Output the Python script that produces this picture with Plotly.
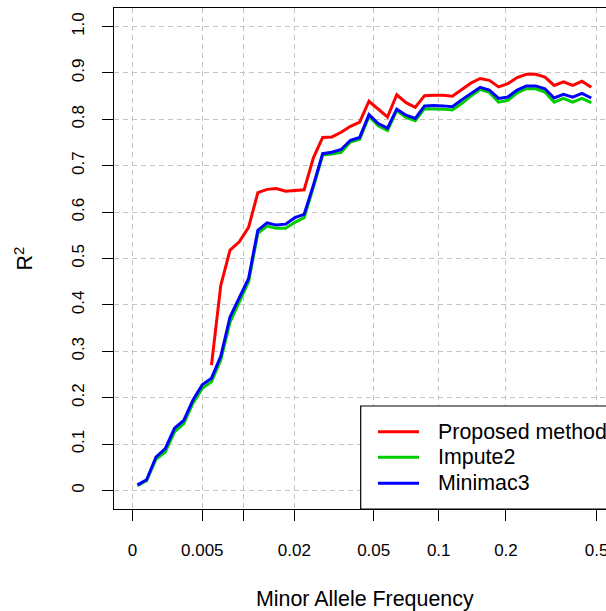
import numpy as np
import plotly.graph_objects as go

# Bin centres of minor allele frequency (50 bins)
maf = [0.00025, 0.00075, 0.00131, 0.00192, 0.00259, 0.00332, 0.00412, 0.0050, 0.00596, 0.00702,
       0.00818, 0.00945, 0.01085, 0.01238, 0.01405, 0.01589, 0.01791, 0.02012, 0.02254, 0.0252,
       0.02811, 0.03131, 0.03481, 0.03865, 0.04286, 0.04748, 0.05254, 0.05810, 0.06418, 0.07086,
       0.07818, 0.08620, 0.0950, 0.10465, 0.11523, 0.12683, 0.13954, 0.15349, 0.16878, 0.18555,
       0.20393, 0.22409, 0.24619, 0.27042, 0.29700, 0.32613, 0.35808, 0.39311, 0.43152, 0.47363]

proposed = [None, None, None, None, None, None, None, None, 0.270, 0.442,
            0.518, 0.536, 0.567, 0.642, 0.649, 0.651, 0.645, 0.646, 0.648, 0.717,
            0.761, 0.762, 0.772, 0.785, 0.794, 0.839, 0.823, 0.805, 0.853, 0.836,
            0.826, 0.851, 0.852, 0.852, 0.850, 0.865, 0.878, 0.888, 0.884, 0.870,
            0.877, 0.890, 0.897, 0.897, 0.891, 0.873, 0.881, 0.873, 0.882, 0.869]

impute2 = [0.010, 0.021, 0.067, 0.083, 0.126, 0.144, 0.188, 0.220, 0.234, 0.281,
           0.363, 0.406, 0.450, 0.554, 0.570, 0.565, 0.565, 0.578, 0.588, 0.654,
           0.723, 0.725, 0.729, 0.751, 0.757, 0.806, 0.786, 0.776, 0.819, 0.804,
           0.797, 0.823, 0.823, 0.822, 0.820, 0.834, 0.850, 0.864, 0.858, 0.837,
           0.841, 0.857, 0.866, 0.866, 0.859, 0.837, 0.845, 0.837, 0.845, 0.836]

minimac3 = [0.012, 0.023, 0.072, 0.090, 0.134, 0.151, 0.195, 0.228, 0.242, 0.289,
            0.374, 0.414, 0.457, 0.561, 0.577, 0.572, 0.574, 0.588, 0.595, 0.658,
            0.726, 0.729, 0.735, 0.755, 0.761, 0.810, 0.791, 0.781, 0.822, 0.809,
            0.802, 0.829, 0.830, 0.829, 0.827, 0.842, 0.856, 0.869, 0.863, 0.845,
            0.848, 0.863, 0.872, 0.872, 0.866, 0.846, 0.854, 0.848, 0.856, 0.846]

x_tick_values = [0, 0.005, 0.02, 0.05, 0.1, 0.2, 0.5]
x_tick_labels = ["0", "0.005", "0.02", "0.05", "0.1", "0.2", "0.5"]
x_unlabeled_ticks = [0.01]
y_tick_values = [0, 0.1, 0.2, 0.3, 0.4, 0.5, 0.6, 0.7, 0.8, 0.9, 1.0]
y_tick_labels = ["0", "0.1", "0.2", "0.3", "0.4", "0.5", "0.6", "0.7", "0.8", "0.9", "1.0"]

series_names = ["Proposed method", "Impute2", "Minimac3"]
series_colors = ["#FF0000", "#00CD00", "#0000FF"]

OFFSET = 0.005
def tr(v):
    return np.log10(np.asarray(v, dtype=float) + OFFSET)

xt = tr(maf)
FONT = "Liberation Sans, Arial, Helvetica, sans-serif"
GRID = "#c4c4c4"
BIG = 21.4

W, H = 606, 611
ML, MR, MT, MB = 114, 0, 8, 102
plot_w = W - ML - MR
plot_h = H - MT - MB

# R-style axis range (4% extension) on the transformed scale; right part is cut off
t0, t1 = tr(0.0), tr(0.5)
span = t1 - t0
full_lo, full_hi = t0 - 0.04 * span, t1 + 0.04 * span
full_px = 501.2
px_per = full_px / (full_hi - full_lo)
vis_hi = full_lo + plot_w / px_per

fig = go.Figure()
for name, vals, col in zip(series_names, [proposed, impute2, minimac3], series_colors):
    fig.add_trace(go.Scatter(x=xt, y=vals, mode="lines", name=name,
                             line=dict(color=col, width=3), showlegend=False,
                             connectgaps=False))

fig.update_layout(
    width=W, height=H,
    margin=dict(l=ML, r=MR, t=MT, b=MB, pad=0),
    paper_bgcolor="white", plot_bgcolor="white",
    font=dict(family=FONT, size=17, color="black"),
    xaxis=dict(range=[full_lo, vis_hi], tickmode="array",
               tickvals=list(tr(x_tick_values)), ticktext=x_tick_labels,
               showgrid=True, gridcolor=GRID, griddash="5px,4px", gridwidth=1,
               minor=dict(tickmode="array", tickvals=list(tr(x_unlabeled_ticks)),
                          ticks="outside", ticklen=11, tickwidth=1.2, tickcolor="black",
                          showgrid=True, gridcolor=GRID, griddash="5px,4px", gridwidth=1),
               zeroline=False, showline=True, linecolor="black", linewidth=1.3,
               mirror=True, ticks="outside", ticklen=11, tickwidth=1.2, tickcolor="black",
               tickfont=dict(size=17, family=FONT, color="black"),
               ticklabelstandoff=14, ticklabeloverflow="allow",
               automargin=False, fixedrange=True),
    yaxis=dict(range=[-0.04, 1.04], tickmode="array",
               tickvals=y_tick_values, ticktext=y_tick_labels, tickangle=-90,
               showgrid=True, gridcolor=GRID, griddash="5px,4px", gridwidth=1,
               zeroline=False, showline=True, linecolor="black", linewidth=1.3,
               mirror=False, ticks="outside", ticklen=11, tickwidth=1.2, tickcolor="black",
               tickfont=dict(size=17, family=FONT, color="black"),
               ticklabelstandoff=11, ticklabeloverflow="allow",
               automargin=False, fixedrange=True),
)

def px_x(p):
    return (p - ML) / plot_w

def px_y(p):
    return (H - MB - p) / plot_h

# Axis titles
fig.add_annotation(text="Minor Allele Frequency", xref="x", yref="paper",
                   x=(full_lo + full_hi) / 2, y=0, yanchor="middle", xanchor="center",
                   yshift=-90, showarrow=False, font=dict(size=BIG, family=FONT, color="black"))
fig.add_annotation(text="R<sup>2</sup>", xref="paper", yref="paper", x=0, y=0.5,
                   xshift=-(ML - 23), textangle=-90, showarrow=False,
                   xanchor="center", yanchor="middle",
                   font=dict(size=BIG, family=FONT, color="black"))

# Legend box (bottom-right, cut off by the figure edge like the original)
fig.add_shape(type="rect", xref="paper", yref="paper",
              x0=px_x(360.7), x1=px_x(640), y0=px_y(406), y1=0,
              line=dict(color="black", width=1.2), fillcolor="white", layer="above")
rows = [431.7, 457.3, 483.3]
for name, col, ry in zip(series_names, series_colors, rows):
    fig.add_shape(type="line", xref="paper", yref="paper",
                  x0=px_x(378), x1=px_x(419), y0=px_y(ry), y1=px_y(ry),
                  line=dict(color=col, width=3), layer="above")
    fig.add_annotation(text=name, xref="paper", yref="paper", x=px_x(435.5), y=px_y(ry),
                       xanchor="left", yanchor="middle", showarrow=False,
                       font=dict(size=BIG, family=FONT, color="black"))

fig.write_html("out.html", config={"displayModeBar": False},
               post_script="document.body.style.margin='0';document.body.style.overflow='hidden';")
